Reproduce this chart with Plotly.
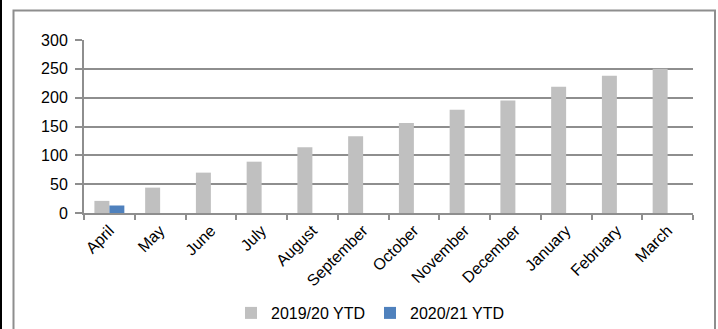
import plotly.graph_objects as go

months = ["April", "May", "June", "July", "August", "September", "October",
          "November", "December", "January", "February", "March"]
ytd_2019_20 = [21, 44, 70, 89, 114, 133, 156, 179, 195, 219, 238, 250]
ytd_2020_21 = [13, None, None, None, None, None, None, None, None, None, None, None]
series_names = ["2019/20 YTD", "2020/21 YTD"]
series_colors = ["#c0c0c0", "#4f81bd"]

# plot area in pixels
W, H = 718, 329
L, R, T, B = 84, 693, 39.5, 212.7

fig = go.Figure()
fig.add_trace(go.Bar(x=months, y=ytd_2019_20, name=series_names[0],
                     marker=dict(color=series_colors[0], line=dict(width=0))))
fig.add_trace(go.Bar(x=months, y=ytd_2020_21, name=series_names[1],
                     marker=dict(color=series_colors[1], line=dict(width=0))))

font = dict(family="Liberation Sans, Arial, sans-serif", size=16, color="#000000")
gridc = "#8e8e8e"

def px_x(p):
    return (p - L) / (R - L)

def px_y(p):
    return (B - p) / (B - T)

fig.update_layout(
    width=W, height=H,
    margin=dict(l=L, r=W - R, t=T, b=H - B, autoexpand=False),
    paper_bgcolor="white", plot_bgcolor="white",
    barmode="group", bargap=0.41, bargroupgap=0,
    font=font,
    showlegend=True,
    legend=dict(orientation="h", xref="container", yref="container",
                x=231 / W, xanchor="left", y=1 - 296 / H, yanchor="top",
                font=font, itemwidth=30, traceorder="normal",
                bgcolor="rgba(0,0,0,0)", borderwidth=0),
    xaxis=dict(type="category", tickangle=-45, showline=True, linecolor=gridc, linewidth=2,
               ticks="outside", tickson="boundaries", ticklen=5, tickcolor=gridc, tickwidth=2,
               showgrid=False, tickfont=font, fixedrange=True, automargin=False),
    yaxis=dict(range=[0, 300], dtick=50, showgrid=True, gridcolor=gridc, gridwidth=2,
               showline=True, linecolor=gridc, linewidth=2, ticks="outside", ticklen=7,
               tickcolor=gridc, tickwidth=2, zeroline=False, tickfont=font,
               ticklabelstandoff=4, fixedrange=True, automargin=False),
    shapes=[
        dict(type="rect", xref="paper", yref="paper",
             x0=px_x(13.5), x1=px_x(715), y0=px_y(340), y1=px_y(10),
             line=dict(color="#8e8e8e", width=2), fillcolor="rgba(0,0,0,0)", layer="below"),
        dict(type="rect", xref="paper", yref="paper",
             x0=px_x(0), x1=px_x(2), y0=px_y(340), y1=px_y(-5),
             line=dict(width=0), fillcolor="#000000", layer="below"),
    ],
)

fig.write_html("out.html")
